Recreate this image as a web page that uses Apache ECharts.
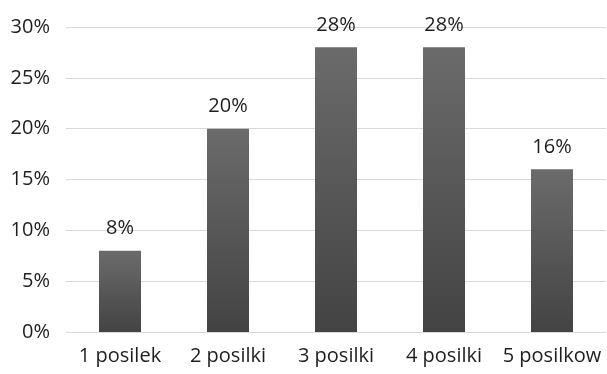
<!DOCTYPE html>
<html>
<head>
<meta charset="utf-8">
<script src="https://cdn.jsdelivr.net/npm/echarts@6/dist/echarts.min.js"></script>
<style>
  html, body { margin: 0; padding: 0; background: #fff; }
  #chart { width: 607px; height: 374px; }
</style>
</head>
<body>
<div id="chart"></div>
<script>
const categories = ['1 posilek', '2 posilki', '3 posilki', '4 posilki', '5 posilkow'];
const shares = [8, 20, 28, 28, 16];
const yTicks = [0, 5, 10, 15, 20, 25, 30];

const font = '"Open Sans", sans-serif';

echarts.init(document.getElementById('chart')).setOption({
    animation: false,
    grid: { left: 66, right: 1, top: 27, bottom: 42 },
    xAxis: {
        type: 'category',
        data: categories,
        axisLine: { show: false },
        axisTick: { show: false },
        axisLabel: { color: '#1e1e1e', fontSize: 20, fontFamily: font, margin: 14, interval: 0 }
    },
    yAxis: {
        type: 'value',
        min: yTicks[0],
        max: yTicks[yTicks.length - 1],
        interval: 5,
        axisLabel: { color: '#1e1e1e', fontSize: 20, fontFamily: font, margin: 16, formatter: '{value}%' },
        splitLine: { lineStyle: { color: '#d9d9d9', width: 1 } }
    },
    series: [{
        type: 'bar',
        data: shares,
        barWidth: 42,
        itemStyle: {
            color: new echarts.graphic.LinearGradient(0, 0, 0, 1, [
                { offset: 0, color: '#6b6b6b' },
                { offset: 1, color: '#434343' }
            ])
        },
        label: {
            show: true,
            position: 'top',
            distance: 12,
            formatter: '{c}%',
            color: '#1e1e1e',
            fontSize: 20,
            fontFamily: font
        }
    }]
});
</script>
</body>
</html>
